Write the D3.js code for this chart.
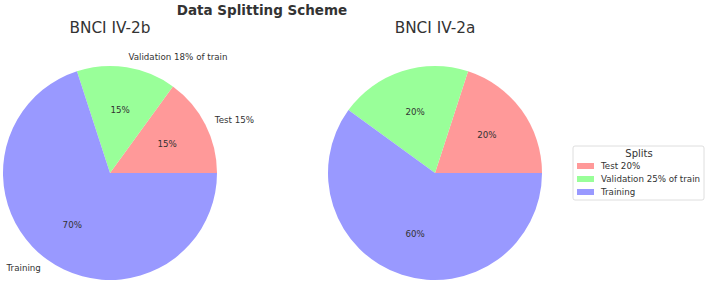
<!DOCTYPE html>
<html>
<head>
<meta charset="utf-8">
<script src="https://cdn.jsdelivr.net/npm/d3@7"></script>
<style>
  body { margin: 0; background: #fff; }
  svg { display: block; font-family: "DejaVu Sans", sans-serif; }
</style>
</head>
<body>
<svg id="chart" width="708" height="284"></svg>
<script>
// data
const splitNames = ["Test", "Validation", "Training"];
const colors = ["#ff9999", "#99ff99", "#9999ff"];

const left_title = "BNCI IV-2b";
const left_values = [15, 15, 70];
const left_labels = ["Test 15%", "Validation 18% of train", "Training"];

const right_title = "BNCI IV-2a";
const right_values = [20, 20, 60];
const right_labels = ["", "", ""];

const legendLabels = ["Test 20%", "Validation 25% of train", "Training"];

const svg = d3.select("#chart");
const textColor = "#333";

svg.append("text")
    .attr("x", 262).attr("y", 15)
    .attr("text-anchor", "middle")
    .style("font-weight", "bold")
    .style("font-size", "13.5px")
    .attr("fill", textColor)
    .text("Data Splitting Scheme");

const radius = 107;

// matplotlib pie: start at 3 o'clock, counter clockwise
function drawPie(cx, cy, values, labels, title) {
    const g = svg.append("g").attr("transform", `translate(${cx},${cy})`);
    const total = d3.sum(values);
    // convert to d3 angles (0 = 12 o'clock, clockwise)
    const pie = d3.pie().sort(null)
        .startAngle(Math.PI / 2)
        .endAngle(Math.PI / 2 - 2 * Math.PI);
    const arcs = pie(values);
    const arc = d3.arc().innerRadius(0).outerRadius(radius);

    g.selectAll("path.slice")
        .data(arcs)
        .enter()
        .append("path")
        .attr("class", "slice")
        .attr("d", arc)
        .attr("fill", (d, i) => colors[i]);

    const mid = d => (d.startAngle + d.endAngle) / 2;

    // percent labels at 0.6 r
    g.selectAll("text.pct")
        .data(arcs)
        .enter()
        .append("text")
        .attr("class", "pct")
        .attr("x", d => Math.sin(mid(d)) * radius * 0.6)
        .attr("y", d => -Math.cos(mid(d)) * radius * 0.6)
        .attr("dy", "0.35em")
        .attr("text-anchor", "middle")
        .style("font-size", "8.7px")
        .attr("fill", textColor)
        .text(d => Math.round(d.value / total * 100) + "%");

    // outer labels at 1.1 r
    g.selectAll("text.lbl")
        .data(arcs)
        .enter()
        .append("text")
        .attr("class", "lbl")
        .attr("x", d => Math.sin(mid(d)) * radius * 1.1)
        .attr("y", d => -Math.cos(mid(d)) * radius * 1.1)
        .attr("dy", "0.35em")
        .attr("text-anchor", d => Math.sin(mid(d)) >= 0 ? "start" : "end")
        .style("font-size", "8.7px")
        .attr("fill", textColor)
        .text((d, i) => labels[i]);

    svg.append("text")
        .attr("x", cx).attr("y", 33)
        .attr("text-anchor", "middle")
        .style("font-size", "15.3px")
        .attr("fill", textColor)
        .text(title);
}

drawPie(110, 173, left_values, left_labels, left_title);
drawPie(435, 173, right_values, right_labels, right_title);

// legend
const lg = svg.append("g").attr("transform", "translate(573,146)");
lg.append("rect")
    .attr("width", 131).attr("height", 54)
    .attr("rx", 2)
    .attr("fill", "#fff")
    .attr("stroke", "#d6d6d6")
    .attr("stroke-width", 0.8);
lg.append("text")
    .attr("x", 66).attr("y", 11)
    .attr("text-anchor", "middle")
    .style("font-size", "10px")
    .attr("fill", textColor)
    .text("Splits");
const rows = lg.selectAll("g.row")
    .data(legendLabels)
    .enter()
    .append("g")
    .attr("class", "row")
    .attr("transform", (d, i) => `translate(4,${20 + i * 13})`);
rows.append("rect")
    .attr("width", 17).attr("height", 6)
    .attr("y", -3)
    .attr("fill", (d, i) => colors[i]);
rows.append("text")
    .attr("x", 24).attr("dy", "0.35em")
    .style("font-size", "8.7px")
    .attr("fill", textColor)
    .text(d => d);
</script>
</body>
</html>
